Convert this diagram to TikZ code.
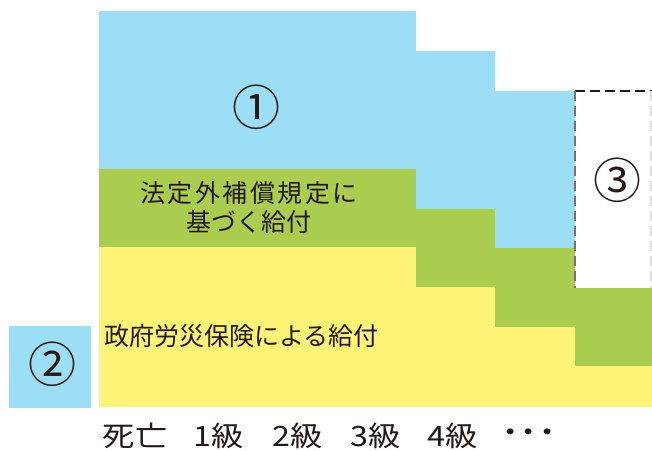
\documentclass[tikz,border=0pt]{standalone}
\usepackage{fontspec}
\newfontfamily\jp{Noto Sans CJK JP}
\definecolor{skyb}{RGB}{156,222,245}
\definecolor{leaf}{RGB}{170,205,80}
\definecolor{lemon}{RGB}{255,243,120}
\definecolor{ink}{RGB}{35,24,21}
\newcommand{\axlab}[1]{\scalebox{1.15}[1]{#1}}
\tikzset{
  body/.style={font=\jp\fontsize{25}{29}\selectfont, text=ink, inner sep=0pt},
  circnum/.style={font=\jp\fontsize{48}{48}\selectfont, text=ink, inner sep=0pt},
  axislab/.style={font=\jp\fontsize{28}{28}\selectfont, text=ink, inner sep=0pt},
  dashline/.style={line width=1.4pt, dash pattern=on 10pt off 5pt}
}
\begin{document}
\begin{tikzpicture}[x=1pt,y=-1pt]
\useasboundingbox (0,0) rectangle (652,450);
\fill[white] (0,0) rectangle (652,450);
% column A
\fill[skyb]  (99,11)  rectangle (416,169);
\fill[leaf]  (99,169) rectangle (416,247);
\fill[lemon] (99,247) rectangle (416,407);
% column B
\fill[skyb]  (416,51)  rectangle (495,209);
\fill[leaf]  (416,209) rectangle (495,287);
\fill[lemon] (416,287) rectangle (495,407);
% column C
\fill[skyb]  (495,91)  rectangle (575,248);
\fill[leaf]  (495,248) rectangle (575,327);
\fill[lemon] (495,327) rectangle (575,407);
% column D
\fill[leaf]  (575,288) rectangle (652,366);
\fill[lemon] (575,366) rectangle (652,407);
% dashed box
\coordinate (d1) at (575,91);
\coordinate (d2) at (652,91);
\coordinate (d3) at (575,288);
\coordinate (d4) at (651,91);
\coordinate (d5) at (651,288);
\draw[dashline, draw=ink] (d1) -- (d2);
\draw[dashline, draw=black!55] (d1) -- (d3);
\draw[dashline, draw=black!12] (d4) -- (d5);
% box 2
\fill[skyb] (9,326) rectangle (91,408);
% labels
\node[circnum] (c1) at (256,107) {①};
\node[circnum] (c3) at (617.5,180) {③};
\node[circnum] (c2) at (52,364) {②};
\node[body, align=center] (hotei) at (249,208) {\addfontfeature{LetterSpace=10}法定外補償規定に\\基づく給付};
\node[body, anchor=west] (seifu) at (104,336) {政府労災保険による給付};
% axis
\node[axislab] (a0) at (135,436) {\axlab{死亡}};
\node[axislab] (a1) at (218.5,436) {\axlab{1級}};
\node[axislab] (a2) at (297.5,436) {\axlab{2級}};
\node[axislab] (a3) at (376,436) {\axlab{3級}};
\node[axislab] (a4) at (453,436) {\axlab{4級}};
\node[axislab] (a5) at (529,436) {\axlab{・\kern-12pt・\kern-12pt・}};
\end{tikzpicture}
\end{document}
